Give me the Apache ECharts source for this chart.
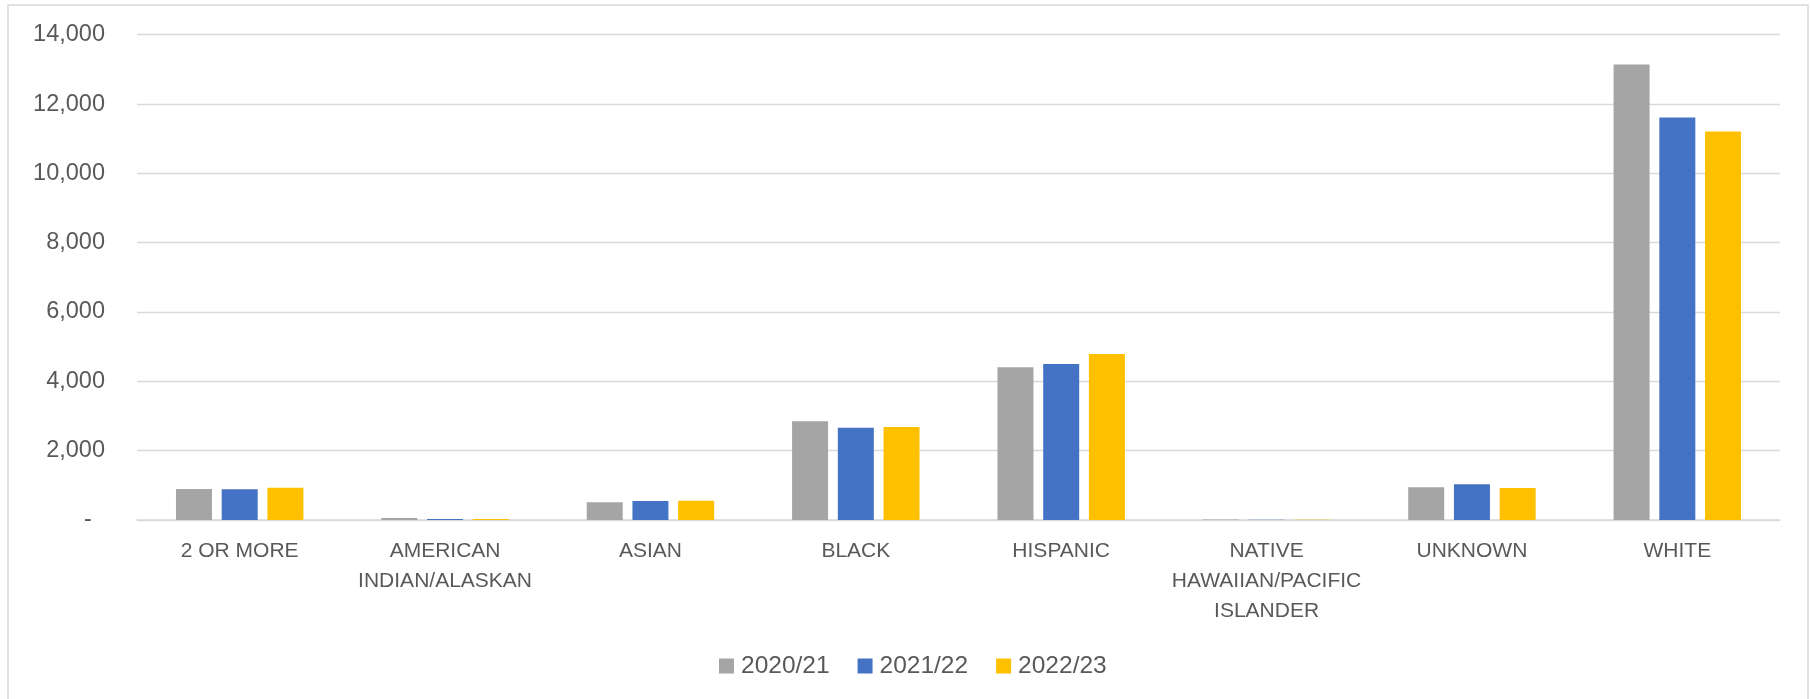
<!DOCTYPE html>
<html>
<head>
<meta charset="utf-8">
<script src="https://cdn.jsdelivr.net/npm/echarts@6/dist/echarts.min.js"></script>
<style>
html,body{margin:0;padding:0;background:#fff;}
#chart{width:1810px;height:699px;}
</style>
</head>
<body>
<div id="chart"></div>
<script>
const categories = ['2 OR MORE', 'AMERICAN\nINDIAN/ALASKAN', 'ASIAN', 'BLACK', 'HISPANIC', 'NATIVE\nHAWAIIAN/PACIFIC\nISLANDER', 'UNKNOWN', 'WHITE'];
const seriesNames = ['2020/21', '2021/22', '2022/23'];
const values2020 = [894, 58, 510, 2846, 4405, 15, 942, 13140];
const values2021 = [885, 29, 548, 2663, 4500, 10, 1029, 11610];
const values2022 = [933, 29, 558, 2683, 4789, 10, 922, 11205];
const colors = ['#A5A5A5', '#4472C4', '#FFC000'];

const chart = echarts.init(document.getElementById('chart'));
const font = 'Liberation Sans';
chart.setOption({
  animation: false,
  backgroundColor: '#ffffff',
  graphic: [{
    type: 'rect',
    shape: {x: 8, y: 5, width: 1800, height: 710},
    style: {fill: 'none', stroke: '#d9d9d9', lineWidth: 1.5},
    silent: true
  }],
  grid: {left: 137, right: 30, top: 34.7, bottom: 179, containLabel: false},
  legend: {
    data: seriesNames,
    left: 719,
    top: 653,
    padding: 0,
    icon: 'rect',
    itemWidth: 15,
    itemHeight: 15,
    itemGap: 28,
    textStyle: {fontFamily: font, fontSize: 24.5, color: '#595959', lineHeight: 26, padding: [0, 0, 0, 2]}
  },
  xAxis: {
    type: 'category',
    data: categories,
    axisLine: {lineStyle: {color: '#d9d9d9', width: 1.5}},
    axisTick: {show: false},
    axisLabel: {
      interval: 0,
      margin: 16,
      fontFamily: font,
      fontSize: 21,
      lineHeight: 30,
      color: '#595959'
    }
  },
  yAxis: {
    type: 'value',
    min: 0,
    max: 14000,
    interval: 2000,
    axisLine: {show: false},
    axisTick: {show: false},
    splitLine: {lineStyle: {color: '#d9d9d9', width: 1.3}},
    axisLabel: {
      margin: 32,
      fontFamily: font,
      fontSize: 23.5,
      color: '#595959',
      formatter: function (v) {
        if (v === 0) return '-  ';
        return v.toLocaleString('en-US');
      }
    }
  },
  series: [
    {name: seriesNames[0], type: 'bar', data: values2020, barWidth: 36, barGap: '27%', itemStyle: {color: colors[0]}},
    {name: seriesNames[1], type: 'bar', data: values2021, barWidth: 36, barGap: '27%', itemStyle: {color: colors[1]}},
    {name: seriesNames[2], type: 'bar', data: values2022, barWidth: 36, barGap: '27%', itemStyle: {color: colors[2]}}
  ]
});
</script>
</body>
</html>
